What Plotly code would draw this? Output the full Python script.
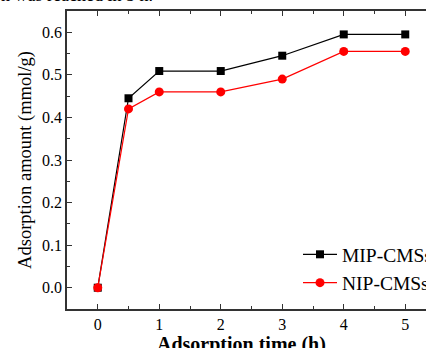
import plotly.graph_objects as go

time_h = [0, 0.5, 1, 2, 3, 4, 5]
mip_cms = [0.0, 0.445, 0.509, 0.509, 0.545, 0.595, 0.595]
nip_cms = [0.0, 0.420, 0.460, 0.460, 0.490, 0.555, 0.555]
x_ticks = [0, 1, 2, 3, 4, 5]
y_ticks = [0.0, 0.1, 0.2, 0.3, 0.4, 0.5, 0.6]

FONT = "Liberation Serif, Times New Roman, serif"
W, H = 426, 348
L, T, B, R = 67, 10.5, 39, 0
px_per_unit = 61.5
x0 = -0.5
x1 = x0 + (W - L - R) / px_per_unit
plot_w = W - L - R
plot_h = H - T - B


def py(p):
    return 1 - (p - T) / plot_h


def px(p):
    return (p - L) / plot_w


fig = go.Figure()
fig.add_trace(go.Scatter(
    x=time_h, y=mip_cms, name="MIP-CMSs", mode="lines+markers",
    line=dict(color="black", width=1.2),
    marker=dict(symbol="square", size=8, color="black"),
))
fig.add_trace(go.Scatter(
    x=time_h, y=nip_cms, name="NIP-CMSs", mode="lines+markers",
    line=dict(color="#ff0000", width=1.2),
    marker=dict(symbol="circle", size=9, color="#ff0000"),
))

axis_common = dict(
    showline=True, linecolor="#333333", linewidth=1.5,
    ticks="inside", ticklen=5, tickwidth=1.2, tickcolor="#333333",
    showgrid=False, zeroline=False, automargin=False,
    tickfont=dict(family=FONT, size=16, color="black"),
)

fig.update_xaxes(
    range=[x0, x1], tickvals=x_ticks, mirror="ticks",
    minor=dict(dtick=0.5, tick0=0, ticks="inside", ticklen=3, tickcolor="#333333"),
    **axis_common,
)
fig.update_yaxes(
    range=[-0.05, 0.65], tickvals=y_ticks, tickformat=".1f",
    minor=dict(dtick=0.05, tick0=0, ticks="inside", ticklen=3, tickcolor="#333333"),
    title=dict(text="Adsorption amount (mmol/g)", font=dict(family=FONT, size=18.5, color="black"), standoff=6),
    **axis_common,
)

# x-axis title placed as annotation (partly cut at bottom, as in the reference)
fig.add_annotation(
    text="<b>Adsorption time (h)</b>", xref="paper", yref="paper",
    x=px(241), y=py(331), xanchor="center", yanchor="top", showarrow=False,
    font=dict(family=FONT, size=20, color="black"),
)

# cut-off caption line at the very top
fig.add_annotation(
    text="n was reached in 5 h.", xref="paper", yref="paper",
    x=px(-1), y=py(6.5),
    xanchor="left", yanchor="bottom", showarrow=False,
    font=dict(family=FONT, size=18, color="black"),
)

fig.update_layout(
    width=W, height=H,
    margin=dict(l=L, r=R, t=T, b=B, pad=0, autoexpand=False),
    paper_bgcolor="white", plot_bgcolor="white",
    showlegend=True,
    legend=dict(
        x=px(298), y=py(235),
        xanchor="left", yanchor="top",
        bgcolor="rgba(0,0,0,0)", borderwidth=0,
        font=dict(family=FONT, size=19.5, color="black"),
        itemwidth=34, tracegroupgap=0,
    ),
)

fig.write_html(
    "out.html",
    config={"displayModeBar": False},
    post_script="document.body.style.margin='0';document.body.style.overflow='hidden';",
)
